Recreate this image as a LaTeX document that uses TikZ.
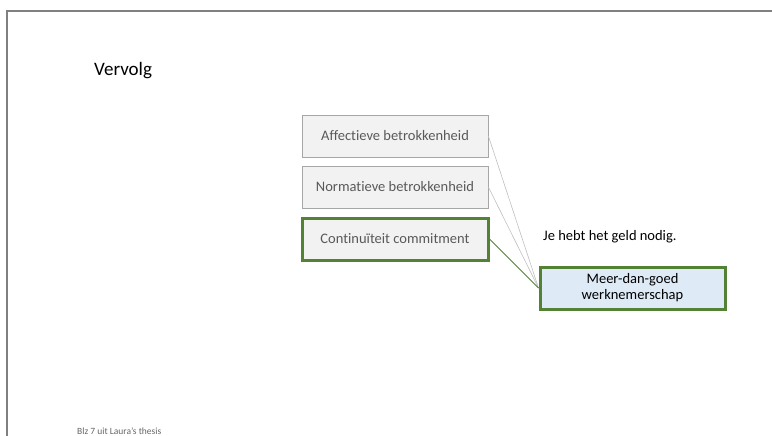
\documentclass[tikz,border=0pt]{standalone}
\usepackage{fontspec}
\setmainfont{Carlito}[Ligatures=NoCommon]
\usepackage{xcolor}
\usetikzlibrary{
    positioning,
    calc
}
\definecolor{boxgray}{HTML}{F2F2F2}
\definecolor{edgegray}{HTML}{A6A6A6}
\definecolor{darkgreen}{HTML}{548235}
\definecolor{paleblue}{HTML}{DEEBF7}
\tikzset{
    factor/.style={
        draw=edgegray,
        line width=0.8pt,
        fill=boxgray,
        minimum width=186pt,
        minimum height=42pt,
        align=center,
        font=\fontsize{14.5}{17}\selectfont,
        text=black!65
    }
}
\tikzset{
    highlight/.style={
        draw=darkgreen,
        line width=3pt
    }
}
\tikzset{
    outcome/.style={
        draw=darkgreen,
        line width=3pt,
        fill=paleblue,
        minimum width=185pt,
        minimum height=42pt,
        align=center,
        font=\fontsize{14.5}{16}\selectfont
    }
}
\tikzset{
    link/.style={
        draw=black!25,
        line width=0.6pt
    }
}

\begin{document}
\begin{tikzpicture}[x=1pt, y=-1pt]

\useasboundingbox (0,0) rectangle (772,436);

% ------------------------------------------------------------
% Slide frame and title
% ------------------------------------------------------------

\draw[black!50, line width=2pt] (772,11) -- (7,11) -- (7,436);

\node[anchor=west, inner sep=0pt, font=\fontsize{19}{22}\selectfont] (title) at (94,71) {Vervolg};

% ------------------------------------------------------------
% Types of commitment
% ------------------------------------------------------------

\node[factor] (aff) at (395,136) {Affectieve betrokkenheid};
\node[factor] (norm) at (395,187) {Normatieve betrokkenheid};
\node[factor, highlight] (cont) at (395,239) {Continuïteit commitment};

% ------------------------------------------------------------
% Outcome
% ------------------------------------------------------------

\node[outcome] (mdg) at (632.5,288) {Meer-dan-goed\\werknemerschap};
\node[anchor=west, inner sep=0pt, font=\fontsize{14.5}{17}\selectfont] (note) at (543,237) {Je hebt het geld nodig.};

\draw[link] (aff.east) -- (mdg.west);
\draw[link] (norm.east) -- (mdg.west);
\draw[draw=darkgreen, line width=1pt] (cont.east) -- (mdg.west);

\node[anchor=west, inner sep=0pt, font=\fontsize{9.5}{11}\selectfont, text=black!60] (source) at (77,431) {Blz 7 uit Laura's thesis};

\end{tikzpicture}
\end{document}
